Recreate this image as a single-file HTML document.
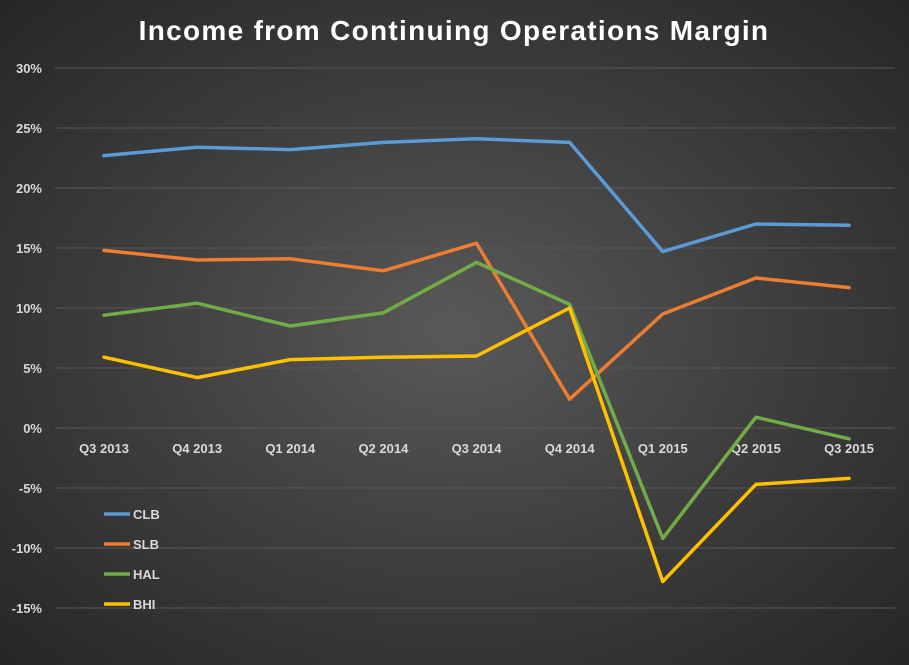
<!DOCTYPE html>
<html><head><meta charset="utf-8"><style>
html,body{margin:0;padding:0}
body{width:909px;height:660px;overflow:hidden;background:radial-gradient(ellipse at 50% 50%,#595959 0%,#3e3e3e 50%,#262626 100%);font-family:"Liberation Sans",sans-serif}
</style></head><body>
<svg id="chart" width="909" height="660" xmlns="http://www.w3.org/2000/svg">
<text x="454" y="40" text-anchor="middle" fill="#fff" font-size="28" font-weight="bold" letter-spacing="1.3">Income from Continuing Operations Margin</text>
<g id="grid"></g><g id="ylabels"></g><g id="xlabels"></g><g id="lines"></g><g id="legend"></g>
</svg>
<script>
const categories=["Q3 2013","Q4 2013","Q1 2014","Q2 2014","Q3 2014","Q4 2014","Q1 2015","Q2 2015","Q3 2015"];
const yTicks=[30,25,20,15,10,5,0,-5,-10,-15];
const seriesNames=["CLB","SLB","HAL","BHI"];
const seriesColors=["#5b9bd5","#ed7d31","#70ad47","#ffc000"];
const clb=[22.7,23.4,23.2,23.8,24.1,23.8,14.7,17.0,16.9];
const slb=[14.8,14.0,14.1,13.1,15.4,2.4,9.5,12.5,11.7];
const hal=[9.4,10.4,8.5,9.6,13.8,10.3,-9.2,0.9,-0.9];
const bhi=[5.9,4.2,5.7,5.9,6.0,10.0,-12.8,-4.7,-4.2];
const series=[clb,slb,hal,bhi];
const NS="http://www.w3.org/2000/svg";
const x0=104,x1=849,yTop=68,yBot=608,vMax=30,vMin=-15;
const xs=i=>x0+i*(x1-x0)/(categories.length-1);
const ys=v=>yTop+(vMax-v)*(yBot-yTop)/(vMax-vMin);
function mk(tag,attrs,parent){const e=document.createElementNS(NS,tag);for(const k in attrs)e.setAttribute(k,attrs[k]);document.getElementById(parent).appendChild(e);return e;}
yTicks.forEach(t=>{
 const l=mk('line',{x1:55,x2:895,y1:ys(t),y2:ys(t),stroke:'#575757','stroke-width':1},'grid');
 
 
 const tx=mk('text',{x:42,y:ys(t)+5,'text-anchor':'end',fill:'#d9d9d9','font-size':13,'font-weight':'bold'},'ylabels');
 tx.textContent=t+'%';
 
 
});
categories.forEach((c,i)=>{
 const tx=mk('text',{x:xs(i),y:ys(0)+25,'text-anchor':'middle',fill:'#d9d9d9','font-size':13,'font-weight':'bold'},'xlabels');
 tx.textContent=c;
 
 
});
series.forEach((s,k)=>{
 const p=mk('polyline',{points:s.map((v,i)=>xs(i)+','+ys(v)).join(' '),fill:'none',stroke:seriesColors[k],'stroke-width':3.5,'stroke-linejoin':'round','stroke-linecap':'round'},'lines');
 
 
 const ly=514+k*30;
 const ll=mk('line',{x1:104,x2:130,y1:ly,y2:ly,stroke:seriesColors[k],'stroke-width':3.5},'legend');
 
 
 const lt=mk('text',{x:133,y:ly+5,fill:'#d9d9d9','font-size':13,'font-weight':'bold'},'legend');
 lt.textContent=seriesNames[k];
 
 
});
</script>
</body></html>
